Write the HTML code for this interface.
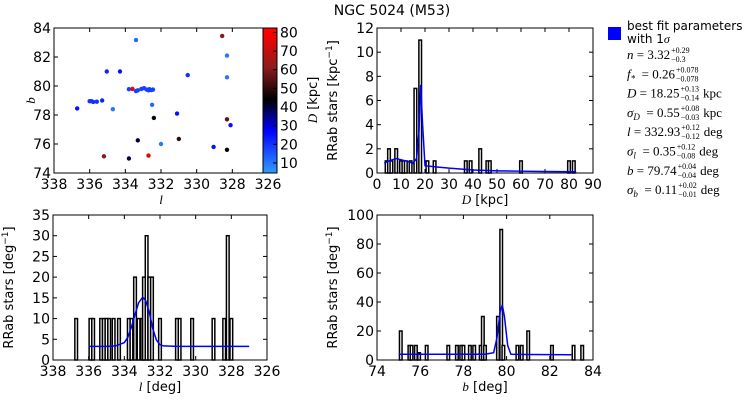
<!DOCTYPE html>
<html><head><meta charset="utf-8"><style>
body{margin:0;background:#fff;width:750px;height:400px;overflow:hidden;font-family:"DejaVu Sans","Liberation Sans",sans-serif}
svg text{font-family:"DejaVu Sans","Liberation Sans",sans-serif}
svg text.m, svg tspan.m{font-family:"Liberation Serif","DejaVu Serif",serif;font-style:italic}
svg text.ser{font-family:"Liberation Serif","DejaVu Serif",serif}
</style></head><body>
<svg id="fig" width="750" height="400" viewBox="0 0 750 400">
<text x="392" y="15" font-size="14" text-anchor="middle">NGC 5024 (M53)</text>
<g id="legend">
<rect x="608" y="27" width="13" height="13" fill="#0000ff"/>
<text x="627" y="30" font-size="12">best fit parameters</text>
<text x="627" y="43" font-size="12">with 1<tspan class="m">σ</tspan></text>
</g>
</svg>
<script>
// ---- data ----
const scatterL=[333.4,328.57,328.3,328.3,335.04,334.3,330.5,333.8,333.6,333.4,333.3,333.1,332.95,332.8,332.7,332.65,332.55,332.45,336.0,335.9,335.8,335.6,335.3,336.7,334.7,332.5,332.4,331.1,328.3,328.1,333.3,331.0,332.0,329.05,328.3,335.2,333.8,332.7];
const scatterB=[83.17,83.45,82.1,80.6,81.0,81.0,80.75,79.78,79.8,79.65,79.7,79.8,79.85,79.75,79.7,79.78,79.72,79.75,78.95,78.95,78.9,78.92,79.0,78.45,78.4,78.7,77.8,78.1,77.7,77.3,76.25,76.35,76.0,75.8,75.6,75.15,75.0,75.2];
const scatterD=[12,60,10,10,22,25,20,18,78,18,18,18,18,18,18,18,18,18,20,20,20,20,22,25,10,12,45,25,55,25,40,50,10,25,45,60,40,75];
const dBins=[4,5,6,8,10,11,12,14,16,18,21,24,37,39,43,46,47,60,80,82];
const dCounts=[1,2,1,2,1,1,1,1,7,11,1,1,1,1,2,1,1,1,1,1];
const dFitX=[3,5,8,12,15,16.5,17.5,18.2,19,20,25,30,40,50,60,70,83];
const dFitY=[0.8,1.0,1.2,1.0,0.8,1.2,3.5,7.3,4,0.6,0.5,0.4,0.25,0.18,0.15,0.12,0.1];
const lBins=[336.7,335.9,335.75,335.3,335.15,335.0,334.85,334.6,334.3,333.75,333.6,333.4,333.2,333.0,332.9,332.75,332.6,332.45,332.0,331.05,330.9,330.2,329.0,328.4,328.2,328.0];
const lCounts=[10,10,10,10,10,10,10,10,10,10,10,20,10,10,20,30,20,20,10,10,10,10,10,10,30,10];
const lFitX=[336,335,334.5,334,333.8,333.6,333.4,333.2,333.0,332.93,332.8,332.6,332.4,332.2,332.0,331.8,331,330,329,328,327];
const lFitY=[3.3,3.3,3.4,4.2,5.5,8,11,13.8,15,15,14.3,11.5,7.5,4.8,3.7,3.4,3.3,3.3,3.3,3.3,3.3];
const bBins=[75.1,75.5,75.6,75.8,75.95,76.3,77.3,77.7,77.9,78.0,78.3,78.5,78.8,78.9,79.0,79.6,79.75,79.85,80.5,80.7,81.0,82.1,83.1,83.5];
const bCounts=[20,10,10,10,5,10,10,10,10,10,10,10,10,30,10,30,90,10,10,10,20,10,10,10];
const bFitX=[75,76,77,78,79,79.4,79.55,79.7,79.8,79.9,80.05,80.2,81,82,83];
const bFitY=[4,4,4,4,4,5,15,33,38,30,10,4,3.8,3.7,3.6];
const legendLines=[
 ['n','','3.32','+0.29','−0.3',''],['f','*','0.26','+0.078','−0.078',''],
 ['D','','18.25','+0.13','−0.14','kpc'],['σ','D','0.55','+0.08','−0.03','kpc'],
 ['l','','332.93','+0.12','−0.12','deg'],['σ','l','0.35','+0.12','−0.08','deg'],
 ['b','','79.74','+0.04','−0.04','deg'],['σ','b','0.11','+0.02','−0.01','deg']];
// ---- drawing ----
const NS='http://www.w3.org/2000/svg',fig=document.getElementById('fig');
function el(t,a,p){const e=document.createElementNS(NS,t);for(const k in a)e.setAttribute(k,a[k]);(p||fig).appendChild(e);return e;}
function scale(d0,d1,r0,r1){return v=>r0+(v-d0)/(d1-d0)*(r1-r0);}
function axes(name,x0,y0,x1,y1,xs,xt,ys,yt,xlab,ylab,xm,ym){
 const g=el('g',{});
 const fr=el('rect',{x:x0,y:y0,width:x1-x0,height:y1-y0,fill:'none',stroke:'#000','stroke-width':1},g);
 
 xt.forEach(v=>{const x=xs(v);el('line',{x1:x,x2:x,y1:y1,y2:y1-4,stroke:'#000'},g);el('line',{x1:x,x2:x,y1:y0,y2:y0+4,stroke:'#000'},g);
  const t=el('text',{x:x,y:y1+16,'font-size':14,'text-anchor':'middle'},g);t.textContent=v;
  });
 yt.forEach(v=>{const y=ys(v);el('line',{x1:x0,x2:x0+4,y1:y,y2:y,stroke:'#000'},g);el('line',{x1:x1,x2:x1-4,y1:y,y2:y,stroke:'#000'},g);
  const t=el('text',{x:x0-3,y:y+5,'font-size':14,'text-anchor':'end'},g);t.textContent=v;
  });
 const xl=el('text',{x:(x0+x1)/2,y:y1+31,'font-size':13,'text-anchor':'middle'},g);xl.innerHTML=xlab;
 
 const yl=el('text',{x:0,y:0,'font-size':13,'text-anchor':'middle',transform:`translate(${ym},${(y0+y1)/2}) rotate(-90)`},g);yl.innerHTML=ylab;
 
 return g;}
function cmap(d){const t=Math.max(0,Math.min(1,(d-5)/(80-5)));
 const stops=[[0,[51,153,255]],[0.3,[0,0,255]],[0.52,[0,0,0]],[0.75,[140,30,30]],[1,[255,0,0]]];
 for(let i=0;i<stops.length-1;i++){const [a,ca]=stops[i],[b,cb]=stops[i+1];if(t<=b){const f=(t-a)/(b-a);return `rgb(${ca.map((c,j)=>Math.round(c+(cb[j]-c)*f)).join(',')})`;}}return 'rgb(255,0,0)';}
// scatter
{const xs=scale(338,326,54,268),ys=scale(74,84,173,28);
 const g=axes('sky-scatter',54,28,268,173,xs,[338,336,334,332,330,328,326],ys,[74,76,78,80,82,84],'<tspan class="m">l</tspan>','<tspan class="m">b</tspan>',0,35);
 scatterL.forEach((l,i)=>{const c=el('circle',{cx:xs(l),cy:ys(scatterB[i]),r:2.2,fill:cmap(scatterD[i])},g);
  });
 const cb=el('g',{});
 const cs=scale(4.6,82.4,173,28);
 for(let v=4.6;v<82.4;v+=0.5){el('rect',{x:263,y:cs(v+0.5),width:14,height:(cs(v)-cs(v+0.5))+0.5,fill:cmap(v)},cb);}
 el('rect',{x:263,y:28,width:14,height:145,fill:'none',stroke:'#000'},cb);
 [10,20,30,40,50,60,70,80].forEach(v=>{el('line',{x1:273,x2:277,y1:cs(v),y2:cs(v),stroke:'#000'},cb);
  const t=el('text',{x:280,y:cs(v)+5,'font-size':14},cb);t.textContent=v;
  });
 const t=el('text',{x:0,y:0,'font-size':13,'text-anchor':'middle',transform:'translate(317,100) rotate(-90)'},cb);
 t.innerHTML='<tspan class="m">D</tspan> [kpc]';}
function hist(name,x0,y0,x1,y1,xd,yd,xt,yt,xlab,ylab,bins,counts,w,fx,fy){
 const xs=scale(xd[0],xd[1],x0,x1),ys=scale(yd[0],yd[1],y1,y0);
 const g=axes(name,x0,y0,x1,y1,xs,xt,ys,yt,xlab,ylab,0,x0-40);
 bins.forEach((b,i)=>{const xa=xs(b-w/2),xb=xs(b+w/2);const r=el('rect',{x:Math.min(xa,xb),y:ys(counts[i]),width:Math.abs(xb-xa),height:y1-ys(counts[i]),fill:'#fff',stroke:'#000','stroke-width':1.5},g);
  });
 const p=el('polyline',{points:fx.map((x,i)=>xs(x)+','+ys(fy[i])).join(' '),fill:'none',stroke:'#0000ff','stroke-width':1.5},g);
 }
hist('distance-histogram',377,28,593,173,[0,90],[0,12],[0,10,20,30,40,50,60,70,80,90],[0,2,4,6,8,10,12],'<tspan class="m">D</tspan> [kpc]','RRab stars [kpc<tspan font-size="9" dy="-5">−1</tspan><tspan dy="5">]</tspan>',dBins,dCounts,1.1,dFitX,dFitY);
hist('l-histogram',53,215,267,360,[338,326],[0,35],[338,336,334,332,330,328,326],[0,5,10,15,20,25,30,35],'<tspan class="m">l</tspan> [deg]','RRab stars [deg<tspan font-size="9" dy="-5">−1</tspan><tspan dy="5">]</tspan>',lBins,lCounts,0.15,lFitX,lFitY);
hist('b-histogram',377,215,593,360,[74,84],[0,100],[74,76,78,80,82,84],[0,20,40,60,80,100],'<tspan class="m">b</tspan> [deg]','RRab stars [deg<tspan font-size="9" dy="-5">−1</tspan><tspan dy="5">]</tspan>',bBins,bCounts,0.12,bFitX,bFitY);
// legend params
{const lg=document.getElementById('legend');
 legendLines.forEach((L,i)=>{const y=59+i*19.3;
  const t=el('text',{x:627,y:y,'font-size':13,'class':'ser'},lg);
  t.innerHTML=`<tspan font-style="italic">${L[0]}</tspan>`+(L[1]?`<tspan font-style="italic" font-size="9" dy="3">${L[1]}</tspan><tspan dy="-3">\u00a0</tspan>`:'')+`\u00a0=\u00a0${L[2]}`;
  
  const bb=t.getComputedTextLength();
  const s=el('text',{x:628+bb,y:y-6,'font-size':8,'class':'ser'},lg);s.textContent=L[3];
  
  const s2=el('text',{x:628+bb,y:y+3,'font-size':8,'class':'ser'},lg);s2.textContent=L[4];
  
  if(L[5]){const sw=Math.max(s.getComputedTextLength(),s2.getComputedTextLength());
   const u=el('text',{x:632+bb+sw,y:y,'font-size':13,'class':'ser'},lg);u.textContent=L[5];
   }});}
</script>
</body></html>
